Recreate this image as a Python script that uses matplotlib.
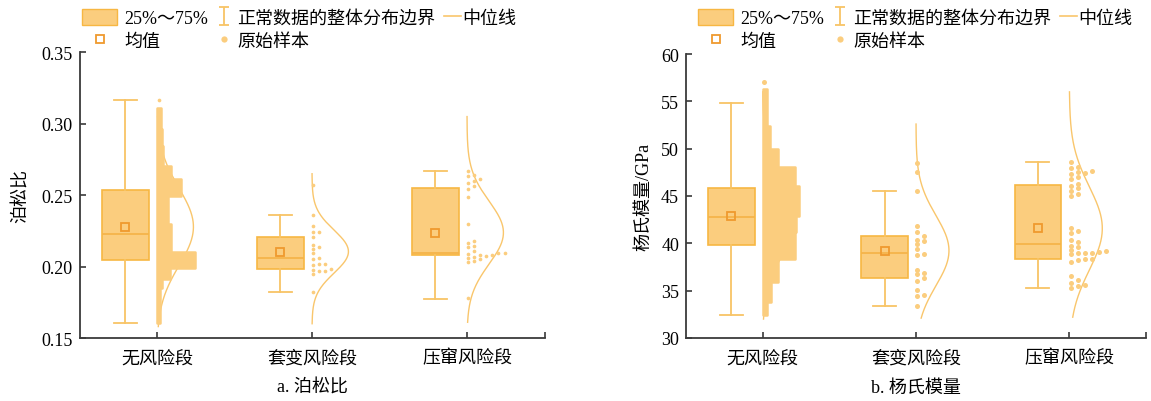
import numpy as np
import matplotlib
matplotlib.use('Agg')
import matplotlib.pyplot as plt
from matplotlib.lines import Line2D
from matplotlib.patches import Patch

plt.rcParams['font.family'] = ['Liberation Serif', 'Noto Sans CJK SC']
plt.rcParams['axes.unicode_minus'] = False

groups = ['无风险段', '套变风险段', '压窜风险段']

# ---- 泊松比 ----
pr_whislo = [0.1607, 0.1820, 0.1775]
pr_q1 = [0.2046, 0.1986, 0.2079]
pr_med = [0.2231, 0.2058, 0.2098]
pr_q3 = [0.2539, 0.2210, 0.2553]
pr_whishi = [0.3168, 0.2362, 0.2670]
pr_mean = [0.2278, 0.2105, 0.2238]
pr_sd = [0.027, 0.015, 0.022]
pr_curve_lo = [0.158, 0.160, 0.161]
pr_curve_hi = [0.305, 0.265, 0.305]

pr_taobian = [0.2572, 0.2364, 0.2284, 0.2240, 0.2240, 0.2207, 0.2154, 0.2121,
              0.2140, 0.2093, 0.2060, 0.2051, 0.2021, 0.2009, 0.2021, 0.1976,
              0.1986, 0.1972, 0.1967, 0.1946, 0.1820]
pr_yacuan = [0.2668, 0.2640, 0.2631, 0.2610, 0.2600, 0.2584, 0.2561, 0.2542,
             0.2486, 0.2301, 0.2180, 0.2168, 0.2144, 0.2140, 0.2109, 0.2095,
             0.2093, 0.2086, 0.2081, 0.2079, 0.2074, 0.2070, 0.2060, 0.2051,
             0.2042, 0.2032, 0.1778]
pr_wufeng_top = [0.3168]
# 无风险段 has thousands of samples: keep the outline of the swarm
pr_cloud_edges = [0.3110, 0.2960, 0.2845, 0.2703, 0.2612, 0.2495, 0.2296,
                  0.2102, 0.1993, 0.1911, 0.1853, 0.1607]
pr_cloud_width = [0.026, 0.032, 0.039, 0.090, 0.155, 0.071, 0.090, 0.245,
                  0.084, 0.032, 0.020]

# ---- 杨氏模量 ----
ym_whislo = [32.40, 33.42, 35.32]
ym_q1 = [39.82, 36.37, 38.31]
ym_med = [42.82, 38.95, 39.96]
ym_q3 = [45.85, 40.74, 46.16]
ym_whishi = [54.79, 45.56, 48.63]
ym_mean = [42.85, 39.23, 41.58]
ym_sd = [4.0, 3.7, 4.4]
ym_curve_lo = [32.0, 32.1, 32.2]
ym_curve_hi = [56.0, 52.6, 56.0]

ym_taobian = [48.45, 47.57, 45.49, 41.80, 41.23, 40.78, 40.39, 40.21, 39.97,
              39.40, 38.91, 38.80, 37.22, 36.87, 36.73, 36.30, 36.02, 35.07,
              34.58, 34.44, 33.35]
ym_yacuan = [48.63, 48.06, 47.92, 47.54, 47.32, 47.68, 47.43, 47.04, 46.83,
             46.27, 46.02, 45.85, 45.56, 45.21, 45.04, 41.58, 41.34, 41.09,
             40.39, 40.11, 39.75, 39.58, 39.12, 38.98, 38.98, 39.16, 38.95,
             39.33, 38.87, 38.35, 38.24, 38.31, 37.99, 36.59, 36.16, 35.53,
             35.77, 35.64, 35.28]
ym_wufeng_top = [57.0]
ym_cloud_edges = [56.3, 52.4, 50.0, 48.1, 46.1, 42.9, 41.2, 38.3, 35.9,
                  33.8, 32.4]
ym_cloud_width = [0.026, 0.046, 0.098, 0.209, 0.235, 0.216, 0.209, 0.098,
                  0.052, 0.026]

BOX_FACE = '#FBCD7E'
BOX_EDGE = '#F7B743'
WHISK = '#F8C466'
MEDIAN = '#F5B44A'
MEAN_EDGE = '#EF9A2E'
DOT = '#FBCD7E'
CURVE = '#F9C66C'
SPINE = '#3a3a3a'

W, H = 1151, 402
fig = plt.figure(figsize=(W / 100, H / 100), dpi=100)


def stack_offsets(vals, dy, dx):
    # one-sided stacking: push a point right until it doesn't touch its neighbours
    vals = np.asarray(vals)
    placed = []
    offs = np.zeros(len(vals))
    for i in np.argsort(vals):
        k = 0
        while any(kk == k and abs(vals[i] - vv) < dy for vv, kk in placed):
            k += 1
        placed.append((vals[i], k))
        offs[i] = k * dx
    return offs


def cloud_outline(edges, widths):
    ys, xs = [], []
    for i, w in enumerate(widths):
        ys += [edges[i], edges[i + 1]]
        xs += [w, w]
    return np.array(ys), np.array(xs)


def draw_panel(ax, whislo, q1, med, q3, whishi, mean, sd, clo, chi,
               small, top, edges, widths, dy, dx, amp, dot_s):
    pos = np.arange(len(groups))
    stats = []
    for i in range(len(groups)):
        stats.append(dict(whislo=whislo[i], q1=q1[i], med=med[i], q3=q3[i],
                          whishi=whishi[i], mean=mean[i], fliers=[]))
    ax.bxp(stats, positions=pos - 0.205, widths=0.305, capwidths=0.15,
           patch_artist=True, showmeans=True, showfliers=False,
           manage_ticks=False,
           boxprops=dict(facecolor=BOX_FACE, edgecolor=BOX_EDGE, linewidth=1.2),
           whiskerprops=dict(color=WHISK, linewidth=1.3),
           capprops=dict(color=WHISK, linewidth=1.3),
           medianprops=dict(color=MEDIAN, linewidth=1.3),
           meanprops=dict(marker='s', markersize=5.5, markerfacecolor='none',
                          markeredgecolor=MEAN_EDGE, markeredgewidth=1.3),
           zorder=3)

    # normal curves
    for i in range(len(groups)):
        yy = np.linspace(clo[i], chi[i], 300)
        xx = pos[i] + amp * np.exp(-0.5 * ((yy - mean[i]) / sd[i]) ** 2)
        ax.plot(xx, yy, color=CURVE, lw=1.0, zorder=2)

    # 无风险段 swarm
    ys, xs = cloud_outline(edges, widths)
    ax.fill_betweenx(ys, pos[0], pos[0] + xs, color=DOT, lw=1.8,
                     edgecolor=DOT, joinstyle='round', zorder=4)
    ax.scatter(np.full(len(top), pos[0] + 0.01), top, s=dot_s, color=DOT,
               lw=0, zorder=4)

    for i, vals in zip([1, 2], small):
        offs = stack_offsets(vals, dy, dx)
        ax.scatter(pos[i] + 0.008 + offs, vals, s=dot_s, color=DOT, lw=0,
                   zorder=4)

    ax.set_xlim(-0.5, 2.5)
    ax.set_xticks(pos)
    ax.set_xticks([2.5], minor=True)
    ax.set_xticklabels(groups, fontsize=12.5)
    for s in ['top', 'right']:
        ax.spines[s].set_visible(False)
    for s in ['left', 'bottom']:
        ax.spines[s].set_color(SPINE)
        ax.spines[s].set_linewidth(1.3)
    ax.tick_params(which='both', direction='in', length=4, width=1.2,
                   color=SPINE, labelsize=13)
    ax.tick_params(axis='x', pad=8)
    ax.tick_params(axis='y', pad=5)


ax1 = fig.add_axes([79.5 / W, 63 / H, 465 / W, 285.7 / H])
draw_panel(ax1, pr_whislo, pr_q1, pr_med, pr_q3, pr_whishi, pr_mean, pr_sd,
           pr_curve_lo, pr_curve_hi, [pr_taobian, pr_yacuan], pr_wufeng_top,
           pr_cloud_edges, pr_cloud_width, dy=0.0026, dx=0.039, amp=0.235,
           dot_s=7)
ax1.set_ylim(0.15, 0.35)
ax1.set_yticks([0.15, 0.20, 0.25, 0.30, 0.35])
ax1.set_yticklabels(['0.15', '0.20', '0.25', '0.30', '0.35'])
ax1.set_ylabel('泊松比', fontsize=13)
ax1.yaxis.set_label_coords(-0.106, 0.5)

ax2 = fig.add_axes([686 / W, 63 / H, 460 / W, 284 / H])
draw_panel(ax2, ym_whislo, ym_q1, ym_med, ym_q3, ym_whishi, ym_mean, ym_sd,
           ym_curve_lo, ym_curve_hi, [ym_taobian, ym_yacuan], ym_wufeng_top,
           ym_cloud_edges, ym_cloud_width, dy=0.4, dx=0.046, amp=0.215,
           dot_s=13)
ax2.set_ylim(30, 60)
ax2.set_yticks(np.arange(30, 61, 5))
ax2.set_ylabel('杨氏模量/GPa', fontsize=13)
ax2.yaxis.set_label_coords(-0.074, 0.5)

fig.text(312 / W, 14 / H, 'a. 泊松比', ha='center', va='center', fontsize=13)
fig.text(916 / W, 14 / H, 'b. 杨氏模量', ha='center', va='center', fontsize=13)

# legend handles
h_box = Patch(facecolor=BOX_FACE, edgecolor=BOX_EDGE, linewidth=1.0)
h_mean = Line2D([], [], ls='none', marker='s', markersize=5.5,
                markerfacecolor='none', markeredgecolor=MEAN_EDGE,
                markeredgewidth=1.3)
h_err = ax1.errorbar([np.nan], [np.nan], yerr=[1], fmt='none', ecolor=WHISK,
                     elinewidth=1.3, capsize=3.5, capthick=1.3)
h_dot = Line2D([], [], ls='none', marker='o', markersize=4.5,
               markerfacecolor=DOT, markeredgecolor='none')
h_med = Line2D([], [], color=CURVE, lw=1.2)

leg_kw = dict(loc='upper left', frameon=False, borderpad=0, borderaxespad=0,
              fontsize=13, labelspacing=0.27)


def legend_block(x0, y0):
    fig.legend([h_box, h_mean], ['25%～75%', '均值'],
               bbox_to_anchor=(x0 / W, 1 - y0 / H), handlelength=1.94,
               handleheight=0.95, handletextpad=0.38, **leg_kw)
    fig.legend([h_err, h_dot], ['正常数据的整体分布边界', '原始样本'],
               bbox_to_anchor=((x0 + 133) / W, 1 - y0 / H), handlelength=1.0,
               handleheight=0.95, handletextpad=0.22, **leg_kw)
    fig.legend([h_med], ['中位线'],
               bbox_to_anchor=((x0 + 362) / W, 1 - y0 / H), handlelength=0.95,
               handleheight=0.95, handletextpad=0.05, **leg_kw)


legend_block(82, 10)
legend_block(698, 10)

fig.savefig('out.png', dpi=100)
